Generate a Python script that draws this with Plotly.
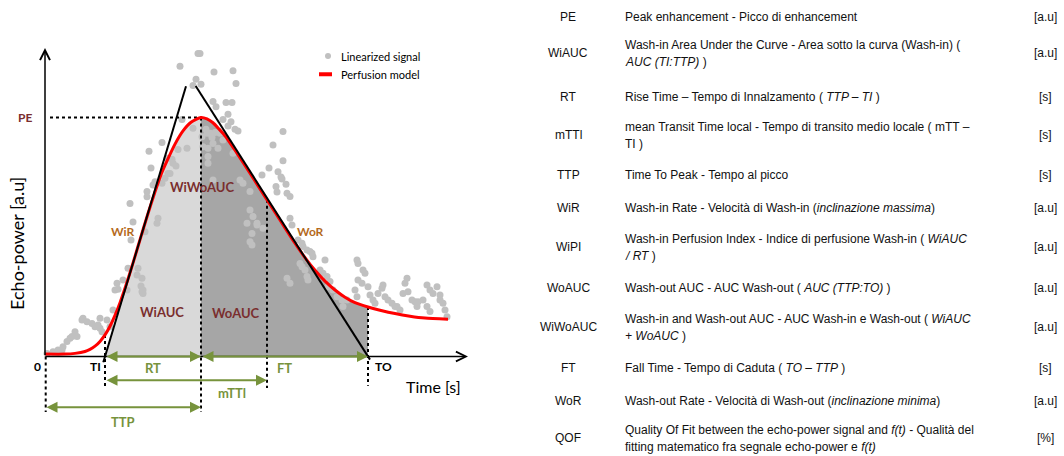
import numpy as np
import plotly.graph_objects as go

# ---------------- data (time in s, echo-power in a.u.) ----------------
CURVE_T = [0, 2, 3, 4, 4.5, 5, 5.5, 6, 6.5, 7, 7.5, 8, 8.5, 9, 9.4, 9.8, 10.3, 11, 11.6, 12.2,
           13, 13.8, 14.6, 15.6, 16.2, 16.8, 17.4, 18, 19, 20, 21, 22, 23, 24, 25, 26, 27, 28,
           29, 30, 31, 32.3, 33.5, 35, 36.5, 38, 40.3]
CURVE_V = [1.0, 1.0, 1.3, 2.1, 3.0, 4.3, 6.3, 9.0, 12.6, 17.1, 22.4, 28.4, 34.9, 41.7, 47.3, 52.8,
           59.6, 68.6, 75.8, 81.5, 88.5, 94.0, 97.6, 99.6, 99.0, 97.4, 94.8, 92.0, 86.0, 79.6, 73.1,
           66.6, 60.1, 53.6, 47.2, 41.2, 35.9, 31.4, 27.7, 24.7, 22.4, 20.6, 19.3, 17.9, 16.8, 16.0, 15.5]

SIG_T = [15.3, 15.5, 13.5, 16.9, 18.8, 19.1, 15.1, 14.8, 15.6, 16.8, 17.1, 18.1, 18.7, 18.3, 17.8,
         18.6, 13.7, 18.3, 19.0, 19.3, 23.8, 22.8, 23.8, 22.4, 23.3, 23.6, 23.7, 21.7, 24.1, 23.1,
         23.2, 24.2, 24.5, 14.8, 16.1, 16.7, 17.0, 11.7, 13.3, 14.2, 10.4, 12.7, 13.1, 10.6, 12.5,
         11.0, 10.8, 11.7, 10.2, 10.2, 16.3, 12.2, 8.5, 11.2, 8.8, 11.3, 8.6, 10.0, 8.3, 9.3,
         9.2, 9.7, 9.6, 9.7, 7.2, 7.3, 6.8, 3.8, 4.2, 4.7, 5.0, 5.3, 5.5, 5.7, 3.0,
         3.2, 2.5, 2.2, 1.8, 1.7, 5.5, 6.2, 0.2, 0.8, 1.3, 2.7, 3.7, 6.5, 7.0, 7.8,
         8.2, 9.8, 9.8, 16.2, 15.8, 16.3, 17.3, 17.5, 17.8, 18.8, 19.5, 19.8, 20.5, 16.8, 15.7,
         20.5, 20.8, 21.2, 20.7, 20.5, 24.5, 24.7, 25.3, 25.7, 25.8, 26.2, 26.5, 26.7, 26.8, 25.5,
         25.7, 26.0, 26.2, 26.3, 28.0, 27.5, 27.8, 28.2, 28.5, 28.3, 28.8, 29.2, 29.7, 29.8, 30.2,
         31.2, 31.3, 31.8, 32.0, 31.3, 31.7, 31.0, 31.2, 32.3, 32.5, 32.8, 33.0, 33.3, 33.7, 33.8,
         34.0, 34.3, 34.7, 35.0, 36.2, 36.0, 35.8, 36.3, 36.7, 37.0, 37.2, 37.3, 38.2, 38.5, 38.8,
         39.2, 39.5, 39.5, 39.8, 40.0, 40.2, 37.8, 38.2, 38.5, 35.2, 35.5, 12.8, 12.3, 12.0, 16.5,
         16.8, 16.3, 20.2, 21.2, 21.8, 20.7, 24.2, 24.5]
SIG_V = [126.3, 126.3, 120.9, 118.5, 119.1, 113.8, 115.5, 112.9, 113.4, 106.2, 104.1, 105.8, 105.8, 100.9, 98.8,
         97.8, 98.8, 96.0, 94.7, 94.0, 93.7, 88.1, 81.6, 78.5, 77.0, 74.8, 74.0, 75.6, 71.8, 70.8,
         68.5, 68.0, 66.7, 95.1, 94.7, 91.2, 93.3, 89.2, 86.3, 86.8, 85.5, 82.2, 79.4, 78.5, 76.3,
         72.8, 71.5, 72.2, 68.7, 66.6, 86.8, 82.6, 63.8, 55.5, 56.0, 57.6, 48.5, 52.0, 36.8, 36.8,
         34.0, 32.6, 29.4, 27.0, 30.5, 28.0, 19.4, 15.9, 14.5, 13.8, 12.4, 13.1, 11.8, 10.3, 10.3,
         8.3, 7.6, 6.2, 4.1, 2.7, 15.9, 15.2, 1.3, 2.0, 2.7, 8.3, 15.2, 12.4, 27.7, 31.9,
         27.7, 27.7, 26.3, 93.0, 87.4, 80.5, 86.8, 93.0, 90.2, 84.7, 73.5, 72.2, 68.7, 73.5, 91.6,
         61.0, 58.3, 55.5, 51.3, 47.8, 57.6, 54.8, 48.5, 47.2, 45.8, 44.4, 43.7, 43.0, 41.6, 38.8,
         37.4, 36.0, 33.3, 31.9, 40.2, 36.0, 34.7, 33.3, 31.2, 29.1, 27.7, 24.9, 23.5, 20.8, 23.5,
         40.2, 38.8, 36.0, 34.7, 31.9, 30.5, 27.7, 24.9, 29.1, 25.6, 23.5, 22.2, 26.3, 28.4, 29.8,
         24.9, 23.5, 22.2, 20.8, 32.6, 30.5, 26.3, 27.0, 23.5, 22.8, 20.8, 22.8, 29.8, 27.7, 26.3,
         29.1, 25.6, 23.5, 22.2, 19.4, 16.6, 23.5, 20.8, 18.7, 20.8, 19.4, 80.5, 76.3, 74.3, 93.0,
         88.8, 83.3, 55.5, 54.8, 53.4, 46.5, 32.6, 30.5]

TI = 6.0          # time of appearance
TTP = 15.6        # time to peak
MTT = 22.2        # mean transit time
TO = 32.3         # time of wash-out end
PE = 99.6         # peak enhancement
WIR_SLOPE = 13.9  # wash-in rate (max slope)
WOR_SLOPE = -6.54 # wash-out rate (min slope)

TABLE_ABBR = ["PE", "WiAUC", "RT", "mTTl", "TTP", "WiR", "WiPI", "WoAUC", "WiWoAUC", "FT", "WoR", "QOF"]
TABLE_DESC = [
    ["Peak enhancement - Picco di enhancement"],
    ["Wash-in Area Under the Curve - Area sotto la curva (Wash-in) (", "<i>AUC (TI:TTP)</i> )"],
    ["Rise Time \u2013 Tempo di Innalzamento ( <i>TTP \u2013 TI</i> )"],
    ["mean Transit Time local - Tempo di transito medio locale ( mTT \u2013", "TI )"],
    ["Time To Peak - Tempo al picco"],
    ["Wash-in Rate - Velocit\u00e0 di Wash-in (<i>inclinazione massima</i>)"],
    ["Wash-in Perfusion Index - Indice di perfusione Wash-in ( <i>WiAUC</i>", "<i>/ RT</i> )"],
    ["Wash-out AUC - AUC Wash-out ( <i>AUC (TTP:TO)</i> )"],
    ["Wash-in and Wash-out AUC - AUC Wash-in e Wash-out ( <i>WiAUC</i>", "<i>+ WoAUC</i> )"],
    ["Fall Time - Tempo di Caduta ( <i>TO \u2013 TTP</i> )"],
    ["Wash-out Rate - Velocit\u00e0 di Wash-out (<i>inclinazione minima</i>)"],
    ["Quality Of Fit between the echo-power signal and <i>f(t)</i> - Qualit\u00e0 del",
     "fitting matematico fra segnale echo-power e <i>f(t)</i>"],
]
TABLE_UNIT = ["[a.u]", "[a.u]", "[s]", "[s]", "[s]", "[a.u]", "[a.u]", "[a.u]", "[a.u]", "[s]", "[a.u]", "[%]"]

# ---------------- layout constants ----------------
W, H = 1064, 456
ROW_PY = [17, 53, 97, 135, 175, 208, 247, 288, 327, 368, 401, 438]
LINE_GAP = 8.5
ABBR_PX, DESC_PX, UNIT_PX = 568, 623, 1045

DIAG_FONT = "Lato"
TAB_FONT = "Liberation Sans"
GREEN = "#77933c"
MAROON = "#7a2e2e"
ORANGE = "#b46a1c"
LIGHT = "#d9d9d9"
DARK = "#a6a6a6"
DOT = "#c0c0c0"

fig = go.Figure()

ct = np.array(CURVE_T)
cv = np.array(CURVE_V)

# light fill (wash-in area)
m = (ct >= TI) & (ct <= TTP)
up = np.minimum(cv[m], WIR_SLOPE * (ct[m] - TI))
fx = [TI] + list(ct[m]) + [TTP, TI]
fy = [0] + list(up) + [0, 0]
fig.add_trace(go.Scatter(x=fx, y=fy, fill="toself", fillcolor=LIGHT, mode="none", hoverinfo="skip"))

# dark fill (wash-out area)
m2 = (ct >= TTP) & (ct <= TO)
fx2 = [TTP] + list(ct[m2]) + [TO, TTP]
fy2 = [0] + list(cv[m2]) + [0, 0]
fig.add_trace(go.Scatter(x=fx2, y=fy2, fill="toself", fillcolor=DARK, mode="none", hoverinfo="skip"))

# linearized signal
fig.add_trace(go.Scatter(x=SIG_T, y=SIG_V, mode="markers",
                         marker=dict(size=7, color=DOT, line=dict(width=0))))

def red_at(t):
    return float(np.interp(t, ct, cv))

dot_line = dict(color="black", width=2, dash="dot")
# dotted guides
fig.add_trace(go.Scatter(x=[0.5, TTP], y=[PE, PE], mode="lines", line=dot_line))
fig.add_trace(go.Scatter(x=[TTP, TTP], y=[PE, -23.1], mode="lines", line=dot_line))
fig.add_trace(go.Scatter(x=[0.07, 0.07], y=[0, -23.1], mode="lines", line=dot_line))
fig.add_trace(go.Scatter(x=[TI, TI], y=[red_at(TI), -12.6], mode="lines", line=dot_line))
fig.add_trace(go.Scatter(x=[MTT, MTT], y=[red_at(MTT), -13.1], mode="lines", line=dot_line))
fig.add_trace(go.Scatter(x=[TO, TO], y=[red_at(TO), -12.2], mode="lines", line=dot_line))

# perfusion model
fig.add_trace(go.Scatter(x=CURVE_T, y=CURVE_V, mode="lines",
                         line=dict(color="#ff0000", width=3, shape="spline", smoothing=0.6)))

# tangent lines
wi_t = [TI - 0.17, 14.1]
fig.add_trace(go.Scatter(x=wi_t, y=[WIR_SLOPE * (t - TI) for t in wi_t], mode="lines",
                         line=dict(color="black", width=2)))
wo_t = [15.07, TO + 0.2]
fig.add_trace(go.Scatter(x=wo_t, y=[WOR_SLOPE * (t - TO) for t in wo_t], mode="lines",
                         line=dict(color="black", width=2)))

ann = []
# axes with arrows
ann.append(dict(x=0, y=128.5, ax=0, ay=0, xref="x", yref="y", axref="x", ayref="y", text="",
                showarrow=True, arrowhead=5, arrowsize=1.3, arrowwidth=1.5, arrowcolor="black"))
ann.append(dict(x=42.3, y=0, ax=-0.1, ay=0, xref="x", yref="y", axref="x", ayref="y", text="",
                showarrow=True, arrowhead=5, arrowsize=1.3, arrowwidth=1.5, arrowcolor="black"))

# green double arrows
def darrow(t0, t1, v):
    return dict(x=t1, y=v, ax=t0, ay=v, xref="x", yref="y", axref="x", ayref="y", text="",
                showarrow=True, arrowhead=2, startarrowhead=2, arrowside="end+start",
                arrowsize=1.1, startarrowsize=1.1, arrowwidth=2, arrowcolor=GREEN)

ann.append(darrow(TI, TTP, 0))
ann.append(darrow(TTP, TO, 0))
ann.append(darrow(TI, MTT, -9.9))
ann.append(darrow(0, TTP, -21.1))

def lab(t, v, s, color, size, bold=True, xanchor="center"):
    txt = f"<b>{s}</b>" if bold else s
    return dict(x=t, y=v, xref="x", yref="y", text=txt, showarrow=False, xanchor=xanchor,
                yanchor="middle", font=dict(family=DIAG_FONT, size=size, color=color))

ann += [
    lab((TI + TTP) / 2, -4.8, "RT", GREEN, 13),
    lab((TTP + TO) / 2, -4.8, "FT", GREEN, 13),
    lab(18.7, -15.3, "mTTl", GREEN, 13),
    lab(TTP / 2, -27.2, "TTP", GREEN, 13),
    lab(-0.8, -4.2, "0", "black", 12),
    lab(5.0, -4.2, "TI", "black", 12),
    lab(33.8, -4.2, "TO", "black", 12),
    lab(38.8, -12.6, "Time [s]", "black", 16, bold=False),
    lab(-2.0, PE, "PE", MAROON, 12),
    lab(15.7, 70.8, "WiWoAUC", MAROON, 13),
    lab(11.7, 18.7, "WiAUC", MAROON, 13),
    lab(19.1, 18.3, "WoAUC", MAROON, 13),
    lab(7.8, 52, "WiR", ORANGE, 12),
    lab(26.5, 52, "WoR", ORANGE, 12),
    lab(29.4, 125.2, "Linearized signal", "black", 11, bold=False, xanchor="left"),
    lab(29.4, 117.6, "Perfusion model", "black", 11, bold=False, xanchor="left"),
]
ann.append(dict(x=-2.8, y=46.9, xref="x", yref="y", text="Echo-power [a.u]", textangle=-90,
                showarrow=False, font=dict(family=DIAG_FONT, size=18, color="black")))

# legend symbols
shapes = [
    dict(type="circle", xref="x", yref="y", xsizemode="pixel", ysizemode="pixel",
         xanchor=28.3, yanchor=125.2, x0=-3, x1=3, y0=-3, y1=3,
         fillcolor=DOT, line=dict(width=0)),
    dict(type="line", xref="x", yref="y", x0=27.4, x1=28.7, y0=117.6, y1=117.6,
         line=dict(color="#ff0000", width=4)),
]

# table
def py2p(py):
    return 1 - py / H

for abbr, desc, unit, py in zip(TABLE_ABBR, TABLE_DESC, TABLE_UNIT, ROW_PY):
    f = dict(family=TAB_FONT, size=12, color="#111111")
    ann.append(dict(x=ABBR_PX / W, y=py2p(py), xref="paper", yref="paper", text=abbr,
                    showarrow=False, xanchor="center", yanchor="middle", font=f))
    ann.append(dict(x=UNIT_PX / W, y=py2p(py), xref="paper", yref="paper", text=unit,
                    showarrow=False, xanchor="center", yanchor="middle", font=f))
    n = len(desc)
    for i, line in enumerate(desc):
        off = (i - (n - 1) / 2) * 2 * LINE_GAP
        ann.append(dict(x=DESC_PX / W, y=py2p(py + off), xref="paper", yref="paper", text=line,
                        showarrow=False, xanchor="left", yanchor="middle", font=f))

X_DOMAIN = 0.47
fig.update_layout(
    width=W, height=H, margin=dict(l=0, r=0, t=0, b=0),
    paper_bgcolor="white", plot_bgcolor="white", showlegend=False,
    xaxis=dict(domain=[0, X_DOMAIN], range=[-4.5, -4.5 + X_DOMAIN * W / 10], visible=False),
    yaxis=dict(domain=[0, 1], range=[-41.46, 148.54], visible=False),
    annotations=ann, shapes=shapes,
)

fig.write_html("out.html", config={"displayModeBar": False},
               post_script="document.body.style.margin='0';document.body.style.overflow='hidden';")
